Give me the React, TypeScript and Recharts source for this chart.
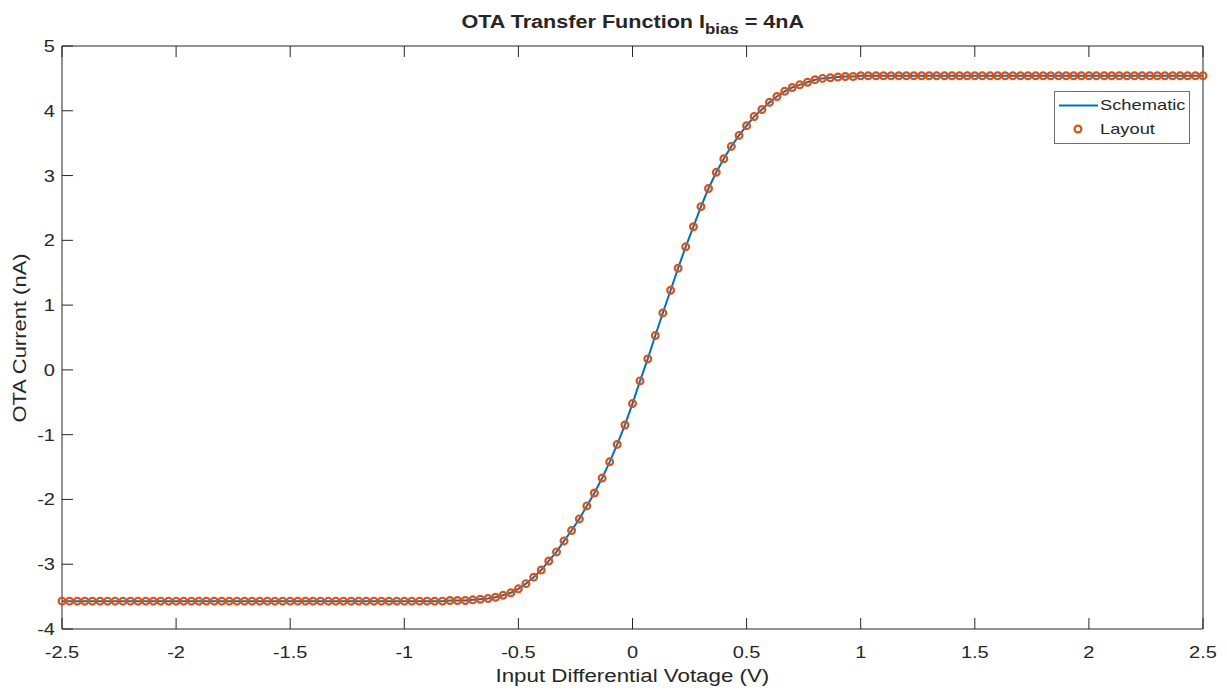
import React from "react";
import { ComposedChart, Line, XAxis, YAxis, ReferenceArea } from "recharts";

// Input differential voltage sweep (V), 1/30 V steps
const VOLTAGE = [
  -2.5, -2.467, -2.433, -2.4, -2.367, -2.333, -2.3, -2.267, -2.233, -2.2,
  -2.167, -2.133, -2.1, -2.067, -2.033, -2, -1.967, -1.933, -1.9, -1.867,
  -1.833, -1.8, -1.767, -1.733, -1.7, -1.667, -1.633, -1.6, -1.567, -1.533,
  -1.5, -1.467, -1.433, -1.4, -1.367, -1.333, -1.3, -1.267, -1.233, -1.2,
  -1.167, -1.133, -1.1, -1.067, -1.033, -1, -0.967, -0.933, -0.9, -0.867,
  -0.833, -0.8, -0.767, -0.733, -0.7, -0.667, -0.633, -0.6, -0.567, -0.533,
  -0.5, -0.467, -0.433, -0.4, -0.367, -0.333, -0.3, -0.267, -0.233, -0.2,
  -0.167, -0.133, -0.1, -0.067, -0.033, 0, 0.033, 0.067, 0.1, 0.133,
  0.167, 0.2, 0.233, 0.267, 0.3, 0.333, 0.367, 0.4, 0.433, 0.467,
  0.5, 0.533, 0.567, 0.6, 0.633, 0.667, 0.7, 0.733, 0.767, 0.8,
  0.833, 0.867, 0.9, 0.933, 0.967, 1, 1.033, 1.067, 1.1, 1.133,
  1.167, 1.2, 1.233, 1.267, 1.3, 1.333, 1.367, 1.4, 1.433, 1.467,
  1.5, 1.533, 1.567, 1.6, 1.633, 1.667, 1.7, 1.733, 1.767, 1.8,
  1.833, 1.867, 1.9, 1.933, 1.967, 2, 2.033, 2.067, 2.1, 2.133,
  2.167, 2.2, 2.233, 2.267, 2.3, 2.333, 2.367, 2.4, 2.433, 2.467,
  2.5,
];

// OTA output current from the schematic simulation (nA)
const SCHEMATIC_NA = [
  -3.57, -3.57, -3.57, -3.57, -3.57, -3.57, -3.57, -3.57, -3.57, -3.57,
  -3.57, -3.57, -3.57, -3.57, -3.57, -3.57, -3.57, -3.57, -3.57, -3.57,
  -3.57, -3.57, -3.57, -3.57, -3.57, -3.57, -3.57, -3.57, -3.57, -3.57,
  -3.57, -3.57, -3.57, -3.57, -3.57, -3.57, -3.57, -3.57, -3.57, -3.57,
  -3.57, -3.57, -3.57, -3.57, -3.57, -3.57, -3.57, -3.57, -3.57, -3.57,
  -3.57, -3.56, -3.56, -3.56, -3.55, -3.54, -3.53, -3.51, -3.48, -3.44,
  -3.38, -3.3, -3.2, -3.09, -2.95, -2.81, -2.64, -2.48, -2.3, -2.1,
  -1.9, -1.67, -1.42, -1.15, -0.85, -0.52, -0.17, 0.17, 0.53, 0.88,
  1.23, 1.57, 1.9, 2.21, 2.52, 2.8, 3.05, 3.26, 3.45, 3.62,
  3.77, 3.91, 4.02, 4.13, 4.22, 4.3, 4.36, 4.4, 4.44, 4.48,
  4.5, 4.51, 4.52, 4.53, 4.53, 4.54, 4.54, 4.54, 4.54, 4.54,
  4.54, 4.54, 4.54, 4.54, 4.54, 4.54, 4.54, 4.54, 4.54, 4.54,
  4.54, 4.54, 4.54, 4.54, 4.54, 4.54, 4.54, 4.54, 4.54, 4.54,
  4.54, 4.54, 4.54, 4.54, 4.54, 4.54, 4.54, 4.54, 4.54, 4.54,
  4.54, 4.54, 4.54, 4.54, 4.54, 4.54, 4.54, 4.54, 4.54, 4.54,
  4.54,
];

// post-layout extraction lands on the schematic curve at every sweep point
const LAYOUT_NA = SCHEMATIC_NA;

const X_TICKS = [-2.5, -2, -1.5, -1, -0.5, 0, 0.5, 1, 1.5, 2, 2.5];
const Y_TICKS = [-4, -3, -2, -1, 0, 1, 2, 3, 4, 5];

const BLUE = "#0072BD";
const ORANGE = "#D95319";
const AX = "#262626";
const FONT = "'Liberation Sans', Arial, Helvetica, sans-serif";
const TICK_LEN = 11;
const STRETCH = 1.25; // Helvetica on this export runs wide

// plot box edges (px)
const W = 1227, H = 696;
const TOP = 46, BOTTOM = 629, LEFT = 62, RIGHT = 1203;

const rows = VOLTAGE.map((v, i) => ({ v, sch: SCHEMATIC_NA[i], lay: LAYOUT_NA[i] }));

function WideText({ x, y, anchor, children }: any) {
  return (
    <text transform={`translate(${x},${y}) scale(${STRETCH},1)`} textAnchor={anchor} fill={AX} fontSize={16} fontFamily={FONT}>
      {children}
    </text>
  );
}

function BottomTick({ x, payload }: any) {
  return (
    <g>
      <line x1={x} y1={BOTTOM} x2={x} y2={BOTTOM - TICK_LEN} stroke={AX} />
      <WideText x={x} y={BOTTOM + 29} anchor="middle">{String(payload.value)}</WideText>
    </g>
  );
}

function TopTick({ x }: any) {
  return <line x1={x} y1={TOP} x2={x} y2={TOP + TICK_LEN} stroke={AX} />;
}

function LeftTick({ y, payload }: any) {
  return (
    <g>
      <line x1={LEFT} y1={y} x2={LEFT + TICK_LEN} y2={y} stroke={AX} />
      <WideText x={LEFT - 7} y={y + 6} anchor="end">{String(payload.value)}</WideText>
    </g>
  );
}

function RightTick({ y }: any) {
  return <line x1={RIGHT} y1={y} x2={RIGHT - TICK_LEN} y2={y} stroke={AX} />;
}

export default function App() {
  return (
    <div style={{ position: "absolute", left: 0, top: 0, width: W, height: H, background: "#fff", fontFamily: FONT, color: AX }}>
      <ComposedChart width={W} height={H} data={rows} margin={{ top: TOP - 1, right: W - RIGHT - 1, left: 0, bottom: 0 }}>
        <XAxis xAxisId="b" dataKey="v" type="number" domain={[-2.5, 2.5]} ticks={X_TICKS} interval={0}
          height={H - BOTTOM} tickLine={false} axisLine={false} tick={<BottomTick />} />
        <XAxis xAxisId="t" orientation="top" dataKey="v" type="number" domain={[-2.5, 2.5]} ticks={X_TICKS} interval={0}
          height={1} tickLine={false} axisLine={false} tick={<TopTick />} />
        <YAxis yAxisId="l" type="number" domain={[-4, 5]} ticks={Y_TICKS} interval={0}
          width={LEFT} tickLine={false} axisLine={false} tick={<LeftTick />} />
        <YAxis yAxisId="r" orientation="right" type="number" domain={[-4, 5]} ticks={Y_TICKS} interval={0}
          width={1} tickLine={false} axisLine={false} tick={<RightTick />} />
        <ReferenceArea xAxisId="b" yAxisId="l" x1={-2.5} x2={2.5} y1={-4} y2={5} fill="none" stroke={AX} strokeWidth={1} ifOverflow="visible" />
        <Line xAxisId="b" yAxisId="l" type="linear" dataKey="sch" name="Schematic" stroke={BLUE} strokeWidth={2}
          dot={false} activeDot={false} isAnimationActive={false} />
        <Line xAxisId="b" yAxisId="l" type="linear" dataKey="lay" name="Layout" stroke="none"
          dot={{ r: 3.4, stroke: ORANGE, strokeWidth: 2.2, fill: "none" }} activeDot={false} isAnimationActive={false} />
      </ComposedChart>

      <div style={{ position: "absolute", left: LEFT, width: RIGHT - LEFT, top: 12, textAlign: "center", fontWeight: 700, fontSize: 18, lineHeight: "20px" }}>
        <span style={{ display: "inline-block", transform: `scaleX(1.2)` }}>
          OTA Transfer Function I<span style={{ fontSize: 14, position: "relative", top: 6 }}>bias</span> = 4nA
        </span>
      </div>

      <div style={{ position: "absolute", left: LEFT, width: RIGHT - LEFT, top: 666, textAlign: "center", fontSize: 18, lineHeight: "20px" }}>
        <span style={{ display: "inline-block", transform: "scaleX(1.24)" }}>Input Differential Votage (V)</span>
      </div>

      <div style={{ position: "absolute", left: 20, top: (TOP + BOTTOM) / 2, width: 0, height: 0 }}>
        <div style={{ position: "absolute", transform: "translate(-50%, -50%) rotate(-90deg) scaleX(1.22)", whiteSpace: "nowrap", fontSize: 18, lineHeight: "20px" }}>
          OTA Current (nA)
        </div>
      </div>

      <div style={{ position: "absolute", left: 1054, top: 91, width: 134, height: 51, border: "1px solid #6e6e6e", background: "#fff", fontSize: 15, lineHeight: "18px" }}>
        <svg width={134} height={51} style={{ position: "absolute", left: 0, top: 0 }}>
          <line x1={4} y1={13.5} x2={43} y2={13.5} stroke={BLUE} strokeWidth={2} />
          <circle cx={23} cy={37} r={3.4} stroke={ORANGE} strokeWidth={2.2} fill="none" />
        </svg>
        <div style={{ position: "absolute", left: 45, top: 4, transform: "scaleX(1.22)", transformOrigin: "left" }}>Schematic</div>
        <div style={{ position: "absolute", left: 45, top: 28, transform: "scaleX(1.22)", transformOrigin: "left" }}>Layout</div>
      </div>
    </div>
  );
}
